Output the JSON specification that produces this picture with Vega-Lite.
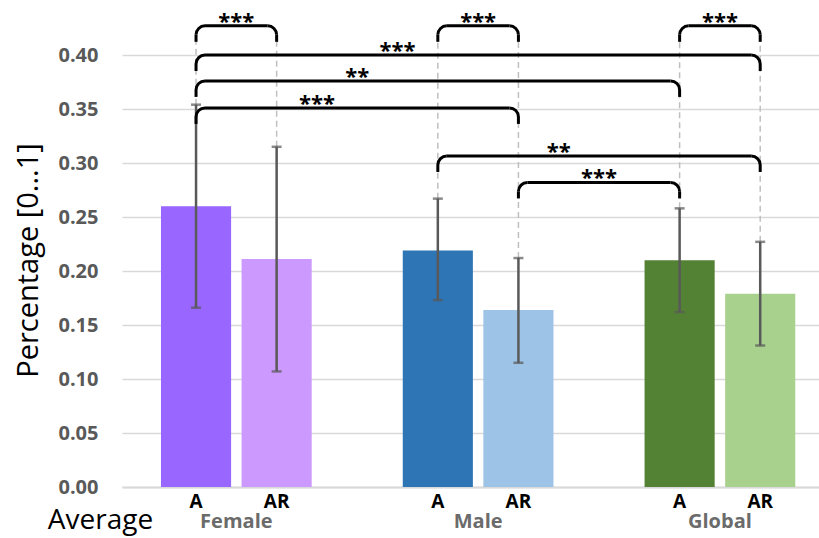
{
  "$schema": "https://vega.github.io/schema/vega-lite/v6.json",
  "autosize": {"type": "none"},
  "padding": {"left": 122, "top": 1, "right": 0, "bottom": 51},
  "width": 697,
  "height": 486,
  "background": "white",
  "config": {
    "view": {"stroke": null},
    "font": "Open Sans"
  },
  "datasets": {
    "bars": [
      {"slot": "Female A", "group": "Female", "type": "A", "mean": 0.260, "lo": 0.166, "hi": 0.354},
      {"slot": "Female AR", "group": "Female", "type": "AR", "mean": 0.211, "lo": 0.107, "hi": 0.315},
      {"slot": "Male A", "group": "Male", "type": "A", "mean": 0.219, "lo": 0.173, "hi": 0.267},
      {"slot": "Male AR", "group": "Male", "type": "AR", "mean": 0.164, "lo": 0.115, "hi": 0.212},
      {"slot": "Global A", "group": "Global", "type": "A", "mean": 0.210, "lo": 0.162, "hi": 0.258},
      {"slot": "Global AR", "group": "Global", "type": "AR", "mean": 0.179, "lo": 0.131, "hi": 0.227}
    ],
    "brackets": [
      {"left": "Female A", "right": "Female AR", "top": 0.427, "label": "***", "labelAt": "Female A", "labelAnchor": "end"},
      {"left": "Male A", "right": "Male AR", "top": 0.427, "label": "***", "labelAt": "Male A", "labelAnchor": "end"},
      {"left": "Global A", "right": "Global AR", "top": 0.427, "label": "***", "labelAt": "Global A", "labelAnchor": "end"},
      {"left": "Female A", "right": "Global AR", "top": 0.400, "label": "***", "labelAt": "gap1", "labelAnchor": "end"},
      {"left": "Female A", "right": "Global A", "top": 0.376, "label": "**", "labelAt": "gap1", "labelAnchor": "center"},
      {"left": "Female A", "right": "Male AR", "top": 0.351, "label": "***", "labelAt": "Female AR", "labelAnchor": "end"},
      {"left": "Male A", "right": "Global AR", "top": 0.3065, "label": "**", "labelAt": "Male AR", "labelAnchor": "end"},
      {"left": "Male AR", "right": "Global A", "top": 0.282, "label": "***", "labelAt": "gap2", "labelAnchor": "center"}
    ]
  },
  "encoding": {
    "x": {
      "field": "slot",
      "type": "nominal",
      "scale": {
        "domain": ["Female A", "Female AR", "gap1", "Male A", "Male AR", "gap2", "Global A", "Global AR"],
        "paddingInner": 0,
        "paddingOuter": 0.324,
        "align": 0.646
      },
      "axis": {
        "labelExpr": "(datum.value == 'gap1' || datum.value == 'gap2') ? '' : split(datum.value, ' ')[1]",
        "labelAngle": 0,
        "labelFont": "Open Sans",
        "labelFontWeight": "bold",
        "labelFontSize": 19,
        "labelColor": "black",
        "labelBaseline": "alphabetic",
        "labelPadding": 20,
        "ticks": false,
        "tickSize": 0,
        "domain": true,
        "domainColor": "#d9d9d9",
        "domainWidth": 2,
        "grid": false,
        "labelOverlap": false,
        "title": "Average",
        "titleFont": "Open Sans",
        "titleFontSize": 28,
        "titleFontWeight": "normal",
        "titleColor": "black",
        "titleX": -22,
        "titleY": 41,
        "titleAlign": "center",
        "titleBaseline": "alphabetic"
      }
    }
  },
  "layer": [
    {
      "data": {"name": "bars"},
      "mark": {"type": "bar", "width": {"band": 0.87}},
      "encoding": {
        "y": {
          "field": "mean",
          "type": "quantitative",
          "scale": {"domain": [0, 0.45], "nice": false},
          "axis": {
            "values": [0, 0.05, 0.1, 0.15, 0.2, 0.25, 0.3, 0.35, 0.4],
            "format": ".2f",
            "labelFont": "Open Sans",
            "labelFontWeight": "bold",
            "labelFontSize": 20,
            "labelColor": "#595959",
            "labelPadding": 24,
            "ticks": false,
            "tickSize": 0,
            "domain": false,
            "grid": true,
            "gridColor": "#d9d9d9",
            "gridWidth": 1.5,
            "title": "Percentage [0...1]",
            "titleFont": "Open Sans",
            "titleFontSize": 29,
            "titleFontWeight": "normal",
            "titleColor": "black",
            "titleAngle": -90,
            "titleX": -85,
            "titleY": 259,
            "titleAlign": "center",
            "titleBaseline": "alphabetic"
          }
        },
        "color": {
          "field": "slot",
          "type": "nominal",
          "scale": {
            "domain": ["Female A", "Female AR", "Male A", "Male AR", "Global A", "Global AR"],
            "range": ["#9966ff", "#cc99ff", "#2e75b6", "#9dc3e6", "#548235", "#a9d18e"]
          },
          "legend": null
        }
      }
    },
    {
      "data": {"name": "bars"},
      "mark": {"type": "rule", "color": "#bfbfbf", "strokeWidth": 1.5, "strokeDash": [6, 4]},
      "encoding": {
        "y": {"field": "hi", "type": "quantitative"},
        "y2": {"datum": 0.416}
      }
    },
    {
      "data": {"name": "bars"},
      "mark": {"type": "rule", "color": "#595959", "strokeWidth": 2.5},
      "encoding": {
        "y": {"field": "lo", "type": "quantitative"},
        "y2": {"field": "hi"}
      }
    },
    {
      "data": {"name": "bars"},
      "mark": {"type": "tick", "color": "#595959", "size": 10, "thickness": 2.5},
      "encoding": {"y": {"field": "lo", "type": "quantitative"}}
    },
    {
      "data": {"name": "bars"},
      "mark": {"type": "tick", "color": "#595959", "size": 10, "thickness": 2.5},
      "encoding": {"y": {"field": "hi", "type": "quantitative"}}
    },
    {
      "data": {"name": "bars"},
      "transform": [{"filter": "datum.type == 'A'"}],
      "mark": {"type": "text", "font": "Open Sans", "fontWeight": "bold", "fontSize": 20, "color": "#6b6b6b", "baseline": "alphabetic", "dy": 41},
      "encoding": {
        "x": {"field": "slot", "type": "nominal", "bandPosition": 1},
        "y": {"datum": 0},
        "text": {"field": "group"}
      }
    },
    {
      "data": {"name": "brackets"},
      "mark": {"type": "rule", "color": "black", "strokeWidth": 3, "xOffset": 9, "x2Offset": -9},
      "encoding": {
        "x": {"field": "left", "type": "nominal"},
        "x2": {"field": "right"},
        "y": {"field": "top", "type": "quantitative"}
      }
    },
    {
      "data": {"name": "brackets"},
      "mark": {"type": "rule", "color": "black", "strokeWidth": 3, "yOffset": 16, "y2Offset": 9},
      "encoding": {
        "x": {"field": "left", "type": "nominal"},
        "y": {"field": "top", "type": "quantitative"},
        "y2": {"field": "top"}
      }
    },
    {
      "data": {"name": "brackets"},
      "mark": {"type": "rule", "color": "black", "strokeWidth": 3, "yOffset": 16, "y2Offset": 9},
      "encoding": {
        "x": {"field": "right", "type": "nominal"},
        "y": {"field": "top", "type": "quantitative"},
        "y2": {"field": "top"}
      }
    },
    {
      "data": {"name": "brackets"},
      "mark": {"type": "point", "shape": "M 0 1 A 1 1 0 0 1 1 0", "size": 324, "filled": false, "color": "black", "strokeWidth": 3, "opacity": 1},
      "encoding": {
        "x": {"field": "left", "type": "nominal"},
        "y": {"field": "top", "type": "quantitative"}
      }
    },
    {
      "data": {"name": "brackets"},
      "mark": {"type": "point", "shape": "M -1 0 A 1 1 0 0 1 0 1", "size": 324, "filled": false, "color": "black", "strokeWidth": 3, "opacity": 1},
      "encoding": {
        "x": {"field": "right", "type": "nominal"},
        "y": {"field": "top", "type": "quantitative"}
      }
    },
    {
      "data": {"name": "brackets"},
      "transform": [{"filter": "datum.labelAnchor == 'end'"}],
      "mark": {"type": "text", "font": "Open Sans", "fontWeight": "bold", "fontSize": 22, "color": "black", "baseline": "alphabetic", "dy": 3},
      "encoding": {
        "x": {"field": "labelAt", "type": "nominal", "bandPosition": 1},
        "y": {"field": "top", "type": "quantitative"},
        "text": {"field": "label"}
      }
    },
    {
      "data": {"name": "brackets"},
      "transform": [{"filter": "datum.labelAnchor == 'center'"}],
      "mark": {"type": "text", "font": "Open Sans", "fontWeight": "bold", "fontSize": 22, "color": "black", "baseline": "alphabetic", "dy": 3},
      "encoding": {
        "x": {"field": "labelAt", "type": "nominal", "bandPosition": 0.5},
        "y": {"field": "top", "type": "quantitative"},
        "text": {"field": "label"}
      }
    }
  ]
}
